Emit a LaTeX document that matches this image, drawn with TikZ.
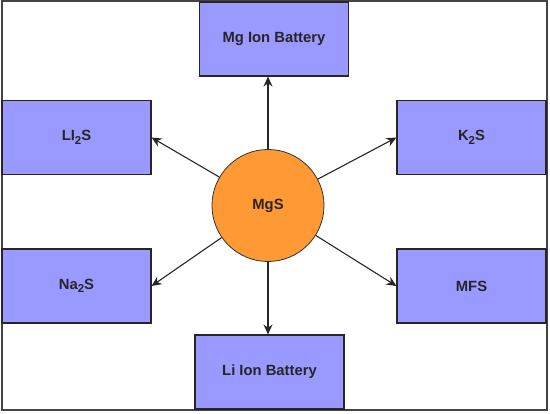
\documentclass[tikz,border=0pt]{standalone}
\usepackage{fontspec}
\setmainfont{Liberation Sans}
\usetikzlibrary{arrows.meta}
\definecolor{boxblue}{HTML}{9999FF}
\definecolor{mgorange}{HTML}{FF9933}
\definecolor{framegray}{HTML}{444444}
\newcommand{\lowsub}[1]{\raisebox{-3.5pt}{\fontsize{11.5}{13}\selectfont #1}}
\tikzset{
  box/.style={draw=black!85, line width=1.1pt, fill=boxblue, minimum width=149pt, minimum height=74pt, inner sep=0pt, font=\fontsize{14.8}{17}\selectfont\bfseries, text=black!85},
  hub/.style={circle, draw=black!80, line width=0.8pt, fill=mgorange, minimum size=112pt, inner sep=0pt, font=\fontsize{14.8}{17}\selectfont\bfseries, text=black!85},
  conn/.style={draw=black!85, line width=1.1pt, -{Stealth[length=10pt,width=9pt]}}
}
\begin{document}
\begin{tikzpicture}[x=1pt,y=-1pt]
\useasboundingbox (0,0) rectangle (550,414);
\draw[framegray, line width=1.6pt] (2,1) rectangle (547,410);
\node[box] (mgb) at (274,39) {Mg Ion Battery};
\node[box] (li2s) at (76.5,137.5) {LI\lowsub{2}S};
\node[box] (k2s) at (471.5,137.5) {K\lowsub{2}S};
\node[box] (na2s) at (76.5,286) {Na\lowsub{2}S};
\node[box] (mfs) at (471.5,286) {MFS};
\node[box] (lib) at (269.5,372) {Li Ion Battery};
\node[hub] (mgs) at (268,205.5) {MgS};
\draw[conn] (mgs) -- (mgb.south -| mgs);
\draw[conn] (mgs) -- (lib.north -| mgs);
\draw[conn] (mgs) -- (li2s.east);
\draw[conn] (mgs) -- (k2s.west);
\draw[conn] (mgs) -- (na2s.east);
\draw[conn] (mgs) -- (mfs.west);
\end{tikzpicture}
\end{document}
